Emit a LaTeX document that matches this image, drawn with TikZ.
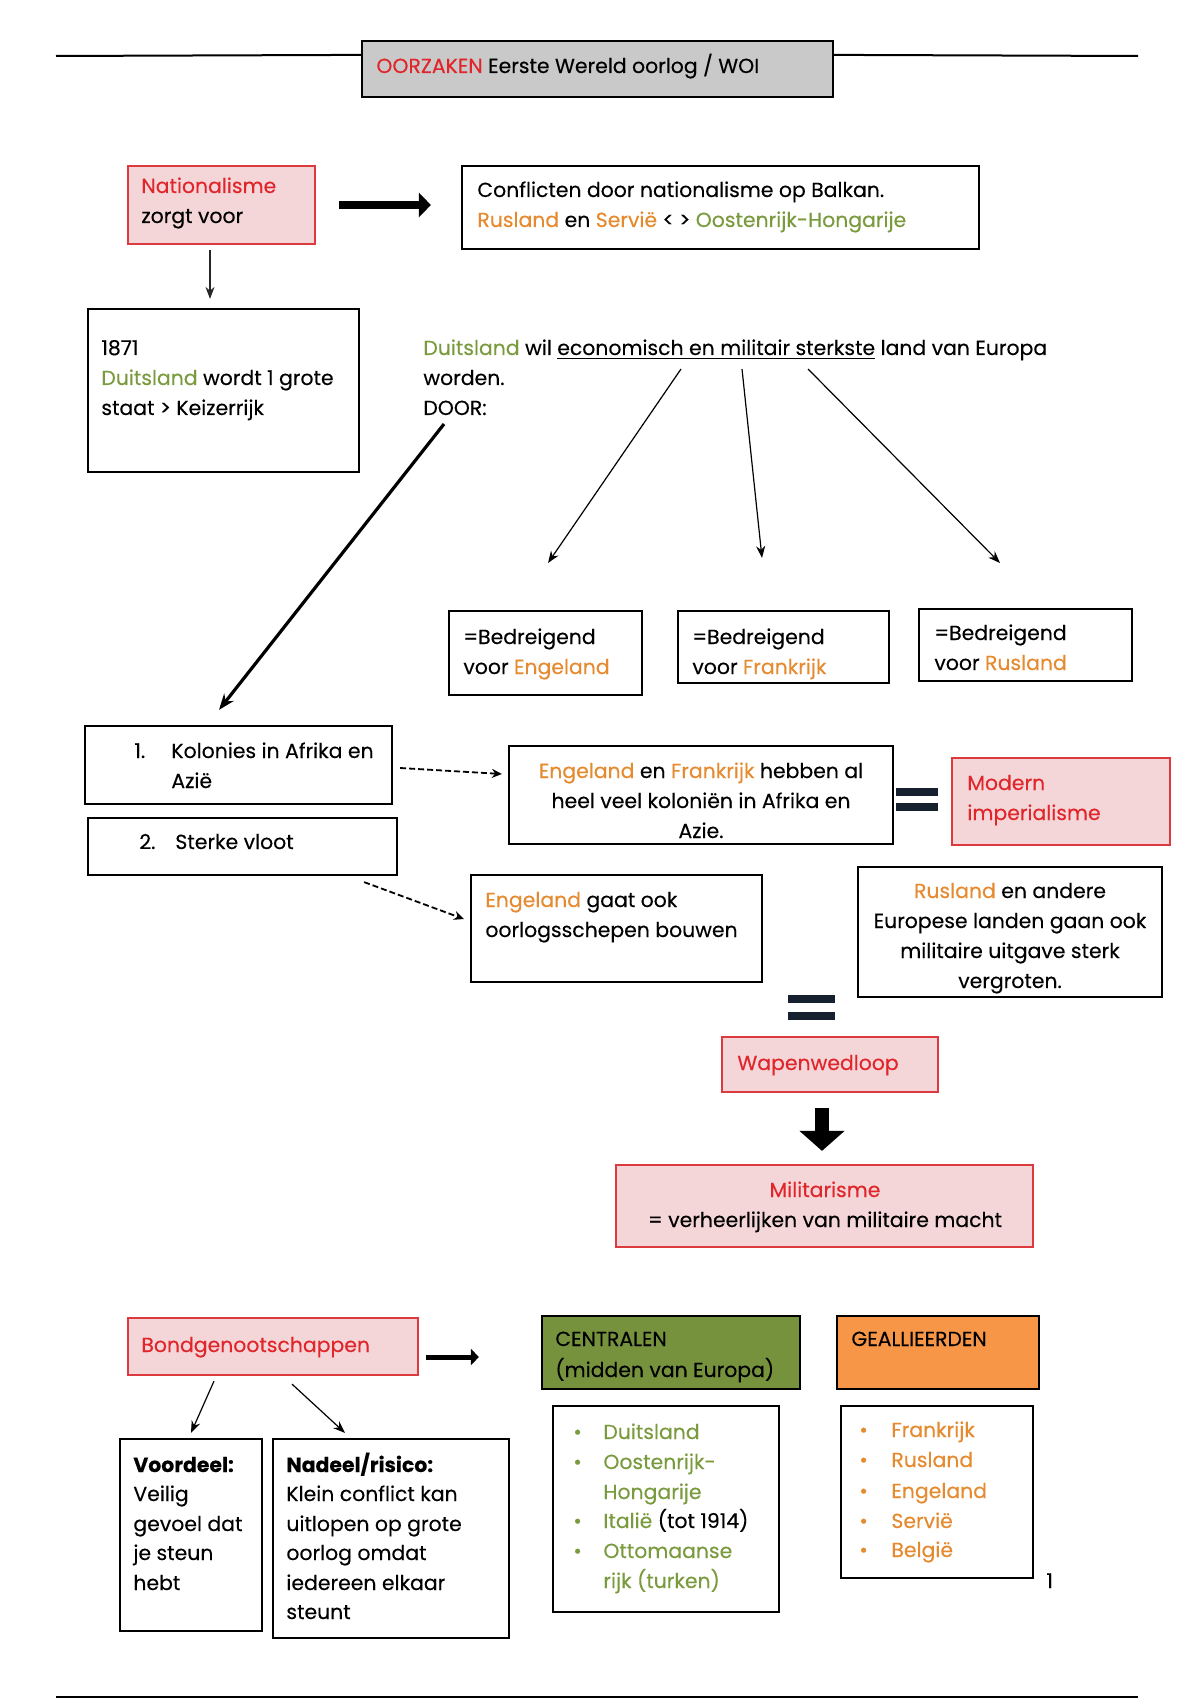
\documentclass[tikz,border=0pt]{standalone}
\usepackage{fontspec}
\setmainfont{Poppins}[FakeBold=0.25]
\usetikzlibrary{arrows.meta,calc,fit}
\definecolor{tred}{HTML}{E0262B}
\definecolor{torange}{HTML}{E58A2E}
\definecolor{tgreen}{HTML}{7A9A3E}
\definecolor{pinkfill}{HTML}{F4D6D8}
\definecolor{redline}{HTML}{DC3A3F}
\definecolor{olivefill}{HTML}{76923C}
\definecolor{orangefill}{HTML}{F79646}
\definecolor{titlegray}{HTML}{C9C9C9}
\definecolor{navybar}{HTML}{17202E}
\newcommand\cred[1]{\textcolor{tred}{#1}}
\newcommand\corg[1]{\textcolor{torange}{#1}}
\newcommand\cgrn[1]{\textcolor{tgreen}{#1}}
\begin{document}
\begin{tikzpicture}[x=0.5pt,y=-0.5pt,
  font=\fontsize{10.2}{12}\selectfont,
  box/.style={draw, line width=1.1pt, inner sep=0pt},
  pinkbox/.style={box, draw=redline, fill=pinkfill},
  txt/.style={anchor=base west, inner sep=0pt},
  ctxt/.style={anchor=base, inner sep=0pt},
  thinarrow/.style={draw=black!85, line width=0.6pt, -{Stealth[length=6pt,width=4.5pt]}},
  dasharrow/.style={draw, line width=0.9pt, dashed, dash pattern=on 3pt off 1.5pt, -{Stealth[length=5pt,width=4.5pt]}},
  rule/.style={draw, line width=1pt}
]
\useasboundingbox (0,0) rectangle (1200,1700);

% title
\node[box, fill=titlegray, fit={(362,41)(833,97)}] (title) {};
\node[txt] (titletxt) at (376,73) {\cred{OORZAKEN} Eerste Wereld oorlog / WOI};
\coordinate (ruleL) at (56,56);
\coordinate (ruleR) at (1138,56);
\draw[rule] (ruleL) -- ($(title.north west)+(0,15)$);
\draw[rule] ($(title.north east)+(0,15)$) -- (ruleR);

% nationalisme
\node[pinkbox, fit={(128,166)(315,244)}] (nat) {};
\node[txt] (nat1) at (141,193) {\cred{Nationalisme}};
\node[txt] (nat2) at (141,223) {zorgt voor};

\node[box, fit={(462,166)(979,249)}] (conf) {};
\node[txt] (conf1) at (477,197) {Conflicten door nationalisme op Balkan.};
\node[txt] (conf2) at (477,227) {\corg{Rusland} en \corg{Servië} < > \cgrn{Oostenrijk-Hongarije}};

\draw[line width=4pt, -{Triangle[length=6pt,width=12pt]}] ($(nat.east)+(23,0)$) -- ($(conf.west)+(-30,-2.5)$);

\node[box, fit={(88,309)(359,472)}] (b1871) {};
\node[txt] (y1) at (101,355) {1871};
\node[txt] (y2) at (101,385) {\cgrn{Duitsland} wordt 1 grote};
\node[txt] (y3) at (101,415) {staat > Keizerrijk};
\draw[thinarrow] ($(nat.south)+(-11.5,5)$) -- ($(b1871.north)+(-13.5,-9)$);

% Duitsland
\node[txt] (d1) at (423,355) {\cgrn{Duitsland} wil \underline{economisch en militair sterkste} land van Europa};
\node[txt] (d2) at (423,385) {worden.};
\node[txt] (d3) at (423,415) {DOOR:};

\coordinate (u1) at (681,369);
\coordinate (u2) at (742,369);
\coordinate (u3) at (808,369);
\coordinate (e1) at (548,563);
\coordinate (e2) at (762,558);
\coordinate (e3) at (1000,563);
\draw[thinarrow, draw=black] (u1) -- (e1);
\draw[thinarrow, draw=black] (u2) -- (e2);
\draw[thinarrow, draw=black] (u3) -- (e3);

\node[box, fit={(449,611)(642,695)}] (bed1) {};
\node[txt] at (463,644) {=Bedreigend};
\node[txt] at (463,674) {voor \corg{Engeland}};
\node[box, fit={(678,611)(889,683)}] (bed2) {};
\node[txt] at (692,644) {=Bedreigend};
\node[txt] at (692,674) {voor \corg{Frankrijk}};
\node[box, fit={(919,609)(1132,681)}] (bed3) {};
\node[txt] at (934,640) {=Bedreigend};
\node[txt] at (934,670) {voor \corg{Rusland}};

% Kolonies / vloot
\node[box, fit={(85,726)(392,804)}] (kol) {};
\node[txt] at (134,758) {1.};
\node[txt] at (171,758) {Kolonies in Afrika en};
\node[txt] at (171,788) {Azië};
\node[box, fit={(88,818)(397,875)}] (vloot) {};
\node[txt] at (139,849) {2.};
\node[txt] at (175,849) {Sterke vloot};

\coordinate (doorstart) at (444,424);
\draw[line width=1.6pt, -{Stealth[length=8pt,width=6pt]}] (doorstart) -- ($(kol.north)+(-19.5,-15)$);

\node[box, fit={(509,746)(893,844)}] (ef) {};
\node[ctxt] at (701,778) {\corg{Engeland} en \corg{Frankrijk} hebben al};
\node[ctxt] at (701,808) {heel veel koloniën in Afrika en};
\node[ctxt] at (701,838) {Azie.};
\draw[dasharrow] ($(kol.east)+(7,3)$) -- ($(ef.west)+(-6,-21)$);

\fill[navybar] (896,788) rectangle (938,796);
\fill[navybar] (896,803) rectangle (938,811);

\node[pinkbox, fit={(952,758)(1170,845)}] (modern) {};
\node[txt] at (967,790) {\cred{Modern}};
\node[txt] at (967,820) {\cred{imperialisme}};

\node[box, fit={(471,875)(762,982)}] (eng) {};
\node[txt] at (485,907) {\corg{Engeland} gaat ook};
\node[txt] at (485,937) {oorlogsschepen bouwen};
\draw[dasharrow] ($(vloot.south east)+(-34,6)$) -- ($(eng.west)+(-6,-9.5)$);

\node[box, fit={(858,867)(1162,997)}] (rus) {};
\node[ctxt] at (1010,898) {\corg{Rusland} en andere};
\node[ctxt] at (1010,928) {Europese landen gaan ook};
\node[ctxt] at (1010,958) {militaire uitgave sterk};
\node[ctxt] at (1010,988) {vergroten.};

\fill[navybar] (788,995) rectangle (835,1003);
\fill[navybar] (788,1012) rectangle (835,1020);

\node[pinkbox, fit={(722,1037)(938,1092)}] (wapen) {};
\node[txt] at (737,1070) {\cred{Wapenwedloop}};

\node[pinkbox, fit={(616,1165)(1033,1247)}] (mil) {};
\node[ctxt] at (825,1197) {\cred{Militarisme}};
\node[ctxt] at (825,1227) {= verheerlijken van militaire macht};
\draw[line width=7pt, -{Triangle[length=10pt,width=22pt]}] ($(wapen.south)+(-8,15)$) -- ($(mil.north)+(-2.5,-13)$);

% Bondgenootschappen
\node[pinkbox, fit={(128,1318)(418,1375)}] (bond) {};
\node[txt] at (141,1352) {\cred{Bondgenootschappen}};

\node[box, fill=olivefill, fit={(542,1316)(800,1389)}] (cent) {};
\node[txt] at (555,1346) {CENTRALEN};
\node[txt] at (555,1377) {(midden van Europa)};
\node[box, fill=orangefill, fit={(837,1316)(1039,1389)}] (geal) {};
\node[txt] at (851,1346) {GEALLIEERDEN};
\draw[line width=2.5pt, -{Triangle[length=4pt,width=8pt]}] ($(bond.east)+(7,10.5)$) -- ($(cent.west)+(-62,4.5)$);

\node[box, fit={(120,1439)(262,1631)}] (voor) {};
\node[txt] at (133,1472) {\textbf{Voordeel:}};
\node[txt] at (133,1501) {Veilig};
\node[txt] at (133,1531) {gevoel dat};
\node[txt] at (133,1560) {je steun};
\node[txt] at (133,1590) {hebt};

\node[box, fit={(273,1439)(509,1638)}] (nad) {};
\node[txt] at (286,1472) {\textbf{Nadeel/risico:}};
\node[txt] at (286,1501) {Klein conflict kan};
\node[txt] at (286,1531) {uitlopen op grote};
\node[txt] at (286,1560) {oorlog omdat};
\node[txt] at (286,1590) {iedereen elkaar};
\node[txt] at (286,1619) {steunt};

\draw[thinarrow, draw=black] ($(bond.south)+(-59,5)$) -- ($(voor.north)+(0,-5)$);
\draw[thinarrow, draw=black] ($(bond.south)+(19,8)$) -- ($(nad.north)+(-46,-5)$);

\node[box, fit={(553,1406)(779,1612)}] (clist) {};
\foreach \yy in {1439,1469,1528,1558} \node[txt, text=tgreen] at (573,\yy) {•};
\node[txt] at (603,1439) {\cgrn{Duitsland}};
\node[txt] at (603,1469) {\cgrn{Oostenrijk-}};
\node[txt] at (603,1499) {\cgrn{Hongarije}};
\node[txt] at (603,1528) {\cgrn{Italië} (tot 1914)};
\node[txt] at (603,1558) {\cgrn{Ottomaanse}};
\node[txt] at (603,1588) {\cgrn{rijk (turken)}};

\node[box, fit={(841,1406)(1033,1578)}] (glist) {};
\foreach \yy/\ww in {1437/Frankrijk,1467/Rusland,1498/Engeland,1528/Servië,1557/België} {
  \node[txt, text=torange] at (859,\yy) {•};
  \node[txt, text=torange] at (891,\yy) {\ww};
}
\node[txt] (pagenum) at (1046,1588) {1};

\coordinate (botL) at (56,1697);
\coordinate (botR) at (1138,1697);
\draw[rule] (botL) -- (botR);
\end{tikzpicture}
\end{document}
